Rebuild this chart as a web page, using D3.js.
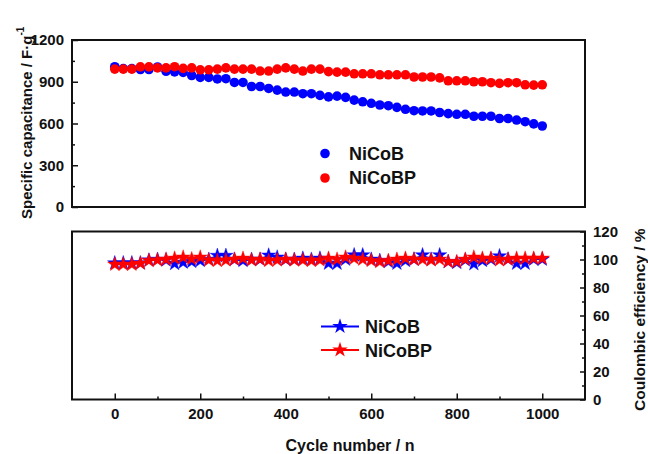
<!DOCTYPE html>
<html>
<head>
<meta charset="utf-8">
<script src="https://cdn.jsdelivr.net/npm/d3@7"></script>
<style>
  body { margin: 0; background: #fff; }
  svg text { font-family: "Liberation Sans", Arial, sans-serif; font-weight: bold; fill: #111; }
</style>
</head>
<body>
<div id="chart"></div>
<script>
// cycle numbers (x)
var cycles = [0, 20, 40, 60, 80, 100, 120, 140, 160, 180, 200, 220, 240, 260, 280, 300, 320, 340, 360, 380,
    400, 420, 440, 460, 480, 500, 520, 540, 560, 580, 600, 620, 640, 660, 680, 700, 720, 740, 760, 780,
    800, 820, 840, 860, 880, 900, 920, 940, 960, 980, 1000];

// specific capacitance, F/g
var capNiCoB = [1008, 995, 995, 988, 988, 1006, 975, 971, 967, 945, 931, 931, 920, 922, 895, 895, 866, 866, 852, 840,
    826, 826, 814, 814, 802, 791, 797, 788, 768, 756, 745, 733, 728, 716, 702, 692, 690, 690, 679, 671,
    666, 666, 652, 652, 652, 636, 636, 625, 613, 597, 582];
var capNiCoBP = [991, 991, 991, 1007, 1007, 1000, 1000, 1008, 996, 1000, 986, 986, 991, 1000, 991, 991, 991, 977, 977, 991,
    1000, 991, 977, 991, 991, 973, 969, 969, 957, 957, 957, 950, 950, 950, 950, 934, 934, 934, 928, 907,
    907, 907, 900, 900, 893, 888, 893, 893, 878, 876, 878];

// coulombic efficiency, %
var ceNiCoB = [97.5, 97.5, 97.5, 97.5, 99.5, 100, 99.5, 97, 98, 98.5, 99.2, 100, 102.8, 102.8, 100, 99.2, 100, 100, 103, 101.6,
    100, 100, 100.8, 100, 100.8, 97.2, 97.2, 100.1, 103.2, 103.2, 100.1, 99.2, 98.4, 97.2, 99.2, 100.1, 103.2, 100.1, 103.2, 98.4,
    97.7, 99.6, 96.8, 99.2, 100.1, 102.5, 100.1, 97.2, 97.2, 100.1, 100.1];
var ceNiCoBP = [96.5, 96.5, 96.5, 97.2, 99.2, 99.6, 100.1, 100.8, 101.6, 100.4, 101.6, 99.6, 99.2, 99.6, 100.1, 100.8, 99.6, 100.1, 99.2, 99.6,
    100.1, 99.6, 99.6, 99.2, 99.6, 100.8, 100.1, 101.6, 100.8, 100.1, 99.2, 98.4, 99.2, 100.1, 100.8, 100.1, 100.1, 99.6, 100.1, 98.4,
    98.4, 100.1, 101.6, 100.8, 100.8, 99.6, 100.1, 100.8, 100.8, 100.8, 100.8];

var seriesNames = ["NiCoB", "NiCoBP"];
var seriesColors = ["#0000ff", "#ff0000"];

var capTicks = [0, 300, 600, 900, 1200];
var ceTicks = [0, 20, 40, 60, 80, 100, 120];
var cycleTicks = [0, 200, 400, 600, 800, 1000];

var width = 648, height = 454;
var svg = d3.select("#chart").append("svg")
    .attr("width", width)
    .attr("height", height);

// scales
var x = d3.scaleLinear().domain([-100, 1100]).range([72, 585]);
var yCap = d3.scaleLinear().domain([0, 1200]).range([207, 40]);
var yCe = d3.scaleLinear().domain([0, 120]).range([399.5, 231.5]);
var fmt = d3.format("d");

function styleAxis(g) {
    g.select(".domain").remove();
    g.selectAll(".tick line").attr("stroke", "#111").attr("stroke-width", 1.5);
    g.selectAll(".tick text").attr("font-size", 15).attr("fill", "#111");
}

// ---- top panel: capacitance ----
svg.append("g")
    .attr("transform", "translate(72,0)")
    .call(d3.axisLeft(yCap).tickValues(capTicks).tickFormat(fmt).tickSize(-6).tickPadding(8))
    .call(styleAxis);
svg.append("g")
    .attr("transform", "translate(72,0)")
    .call(d3.axisLeft(yCap).tickValues([150, 450, 750, 1050]).tickSize(-3).tickFormat(""))
    .call(styleAxis);

var capData = [capNiCoB, capNiCoBP];
capData.forEach(function(vals, i) {
    svg.append("g").selectAll("circle")
        .data(vals)
        .enter().append("circle")
        .attr("cx", function(d, j) { return x(cycles[j]); })
        .attr("cy", function(d) { return yCap(d); })
        .attr("r", 4.8)
        .attr("fill", seriesColors[i]);
});

svg.append("rect")
    .attr("x", 72).attr("y", 40)
    .attr("width", 513).attr("height", 167)
    .attr("fill", "none").attr("stroke", "#111").attr("stroke-width", 2);

// top legend
seriesNames.forEach(function(name, i) {
    var ly = 153.5 + i * 24.5;
    svg.append("circle").attr("cx", 325).attr("cy", ly).attr("r", 4.8).attr("fill", seriesColors[i]);
    svg.append("text").attr("x", 349).attr("y", ly + 6).attr("font-size", 18).text(name);
});

// ---- bottom panel: coulombic efficiency ----
svg.append("g")
    .attr("transform", "translate(0,399.5)")
    .call(d3.axisBottom(x).tickValues(cycleTicks).tickFormat(fmt).tickSize(-6).tickPadding(9))
    .call(styleAxis);
svg.append("g")
    .attr("transform", "translate(0,399.5)")
    .call(d3.axisBottom(x).tickValues([100, 300, 500, 700, 900]).tickSize(-3).tickFormat(""))
    .call(styleAxis);

svg.append("g")
    .attr("transform", "translate(585,0)")
    .call(d3.axisRight(yCe).tickValues(ceTicks).tickFormat(fmt).tickSize(-5).tickPadding(8))
    .call(styleAxis);
svg.append("g")
    .attr("transform", "translate(585,0)")
    .call(d3.axisRight(yCe).tickValues([10, 30, 50, 70, 90, 110]).tickSize(-3).tickFormat(""))
    .call(styleAxis);

var star = d3.symbol().type(d3.symbolStar).size(64);
var ceData = [ceNiCoB, ceNiCoBP];
var line = d3.line()
    .x(function(d, j) { return x(cycles[j]); })
    .y(function(d) { return yCe(d); });

ceData.forEach(function(vals, i) {
    svg.append("path")
        .datum(vals)
        .attr("d", line)
        .attr("fill", "none")
        .attr("stroke", seriesColors[i])
        .attr("stroke-width", 1.5);
    svg.append("g").selectAll("path")
        .data(vals)
        .enter().append("path")
        .attr("d", star)
        .attr("transform", function(d, j) { return "translate(" + x(cycles[j]) + "," + yCe(d) + ")"; })
        .attr("fill", seriesColors[i])
        .attr("stroke", seriesColors[i])
        .attr("stroke-opacity", 0.4)
        .attr("stroke-width", 1);
});

svg.append("rect")
    .attr("x", 72).attr("y", 231.5)
    .attr("width", 513).attr("height", 168)
    .attr("fill", "none").attr("stroke", "#111").attr("stroke-width", 2);

// bottom legend
seriesNames.forEach(function(name, i) {
    var ly = 326.5 + i * 23.5;
    svg.append("line")
        .attr("x1", 321).attr("x2", 359)
        .attr("y1", ly).attr("y2", ly)
        .attr("stroke", seriesColors[i]).attr("stroke-width", 2);
    svg.append("path")
        .attr("d", d3.symbol().type(d3.symbolStar).size(75)())
        .attr("transform", "translate(340," + ly + ")")
        .attr("fill", seriesColors[i]);
    svg.append("text").attr("x", 365).attr("y", ly + 6.5).attr("font-size", 18).text(name);
});

// ---- axis titles ----
var capTitle = svg.append("text")
    .attr("transform", "translate(32,219) rotate(-90)")
    .attr("font-size", 15);
capTitle.append("tspan").text("Specific capacitance / F·g");
capTitle.append("tspan").attr("font-size", 10).attr("dy", -8).text("-1");

svg.append("text")
    .attr("transform", "translate(645,411) rotate(-90)")
    .attr("font-size", 15.5)
    .text("Coulombic efficiency / %");

svg.append("text")
    .attr("x", 350).attr("y", 451)
    .attr("text-anchor", "middle")
    .attr("font-size", 16)
    .text("Cycle number / n");
</script>
</body>
</html>
